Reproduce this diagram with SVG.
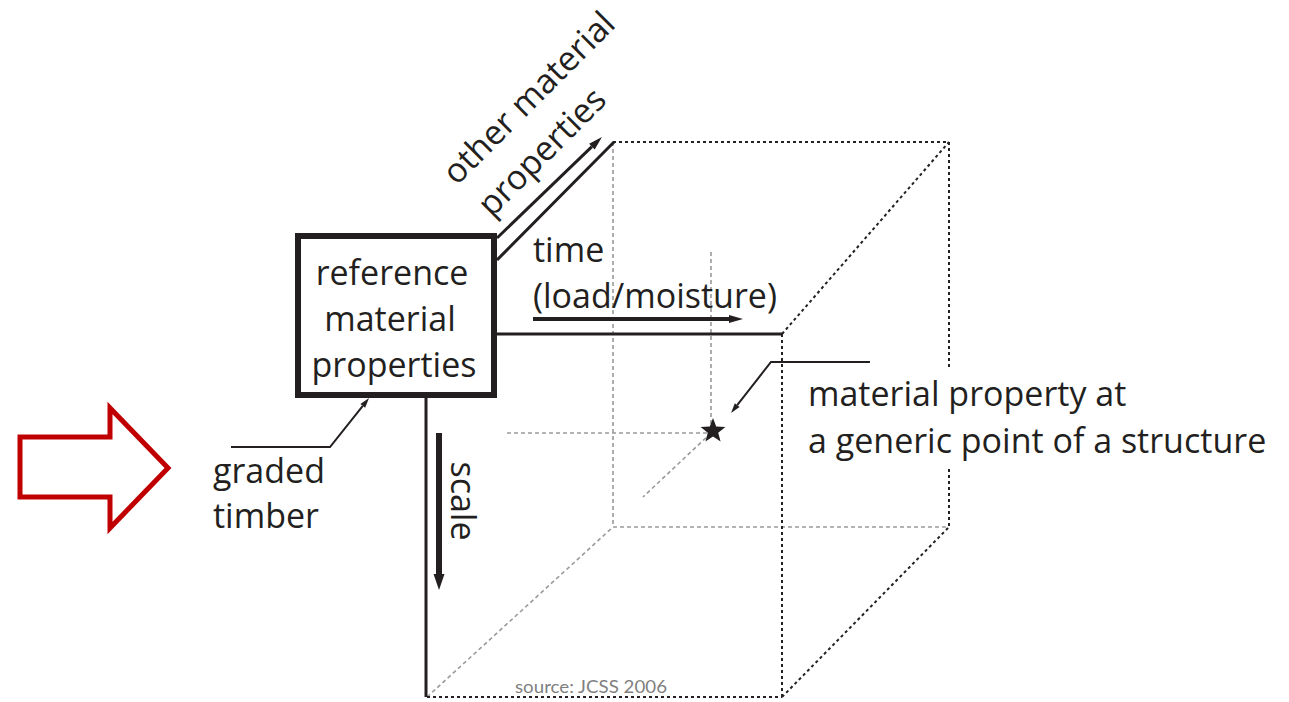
<svg xmlns="http://www.w3.org/2000/svg" width="1289" height="702" viewBox="0 0 1289 702">
<style>
.t{font-family:"Open Sans","Noto Sans",sans-serif;font-size:34px;fill:#231f20}
.dk{fill:none;stroke:#222;stroke-width:2;stroke-dasharray:3 3}
.gy{fill:none;stroke:#9a9a9a;stroke-width:1.6;stroke-dasharray:4 3}
.sl{fill:none;stroke:#231f20;stroke-width:3}
.ln{fill:none;stroke:#231f20}
</style>
<defs>
<marker id="ah" markerUnits="userSpaceOnUse" markerWidth="16" markerHeight="10" refX="0" refY="5" orient="auto" overflow="visible"><path d="M0,1 L14,5 L0,9 z" fill="#231f20"/></marker>
<marker id="ahs" markerUnits="userSpaceOnUse" markerWidth="12" markerHeight="8" refX="0" refY="4" orient="auto" overflow="visible"><path d="M0,1 L10,4 L0,7 z" fill="#231f20"/></marker>
<marker id="ahb" markerUnits="userSpaceOnUse" markerWidth="18" markerHeight="12" refX="0" refY="6" orient="auto" overflow="visible"><path d="M0,0.5 L16,6 L0,11.5 z" fill="#231f20"/></marker>
</defs>
<rect width="1289" height="702" fill="#fff"/>

<g id="cube">
<path class="gy" d="M613,142 V527 M613,527 H949 M427,697 L613,527 M711,252 V432 M507,433 H711 M711,433 L643,497"/>
<path class="dk" d="M613,142 H949 M949,142 V367 M949,469 V527 M782,334 L949,142 M782,334 V697 M427,697 H782 M782,697 L949,527"/>
<path class="sl" d="M426,397 V697 M497,334 H782 M497,260 L614,142"/>
</g>

<g id="connectors">
<path class="ln" stroke-width="3" d="M497,238 L591.9,146.7" marker-end="url(#ah)"/>
<path class="ln" stroke-width="4" d="M533,319 H729" marker-end="url(#ah)"/>
<path class="ln" stroke-width="6" d="M439,433 V574" marker-end="url(#ahb)"/>
<path class="ln" stroke-width="2" d="M231,447 H330 L362.8,405.8" marker-end="url(#ahs)"/>
<path class="ln" stroke-width="2" d="M870,362 H771 L737.2,405.1" marker-end="url(#ahs)"/>
</g>

<g id="ref-box">
<rect x="298" y="236" width="196" height="159" fill="#fff" stroke="#231f20" stroke-width="6"/>
<text class="t" x="392" y="285" text-anchor="middle">reference</text>
<text class="t" x="390" y="331" text-anchor="middle">material</text>
<text class="t" x="394" y="377" text-anchor="middle">properties</text>
</g>

<g id="axis-labels">
<text class="t" transform="translate(537,106) rotate(-45)" text-anchor="middle">other material</text>
<text class="t" transform="translate(550,160) rotate(-45)" text-anchor="middle">properties</text>
<text class="t" x="533" y="262">time</text>
<text class="t" x="533" y="308">(load/moisture)</text>
<text class="t" transform="translate(451,501) rotate(90)" text-anchor="middle">scale</text>
</g>

<g id="graded-timber">
<text class="t" x="213" y="483">graded</text>
<text class="t" x="213" y="528">timber</text>
</g>

<g id="point">
<polygon points="713,418 716.2,426.6 725.4,427 718.2,432.7 720.6,441.5 713,436.5 705.4,441.5 707.8,432.7 700.6,427 709.8,426.6" fill="#231f20"/>
<text class="t" x="808" y="406">material property at</text>
<text class="t" x="808" y="453">a generic point of a structure</text>
</g>

<g id="red-arrow">
<polygon points="20,437 110,437 110,408 168,468 110,528 110,497 20,497" fill="#fff" stroke="#c00000" stroke-width="5"/>
</g>

<text id="source" x="515" y="693" font-family="Lato,'Open Sans',sans-serif" font-size="17" fill="#7f7f7f" textLength="152" lengthAdjust="spacingAndGlyphs">source: JCSS 2006</text>
</svg>
